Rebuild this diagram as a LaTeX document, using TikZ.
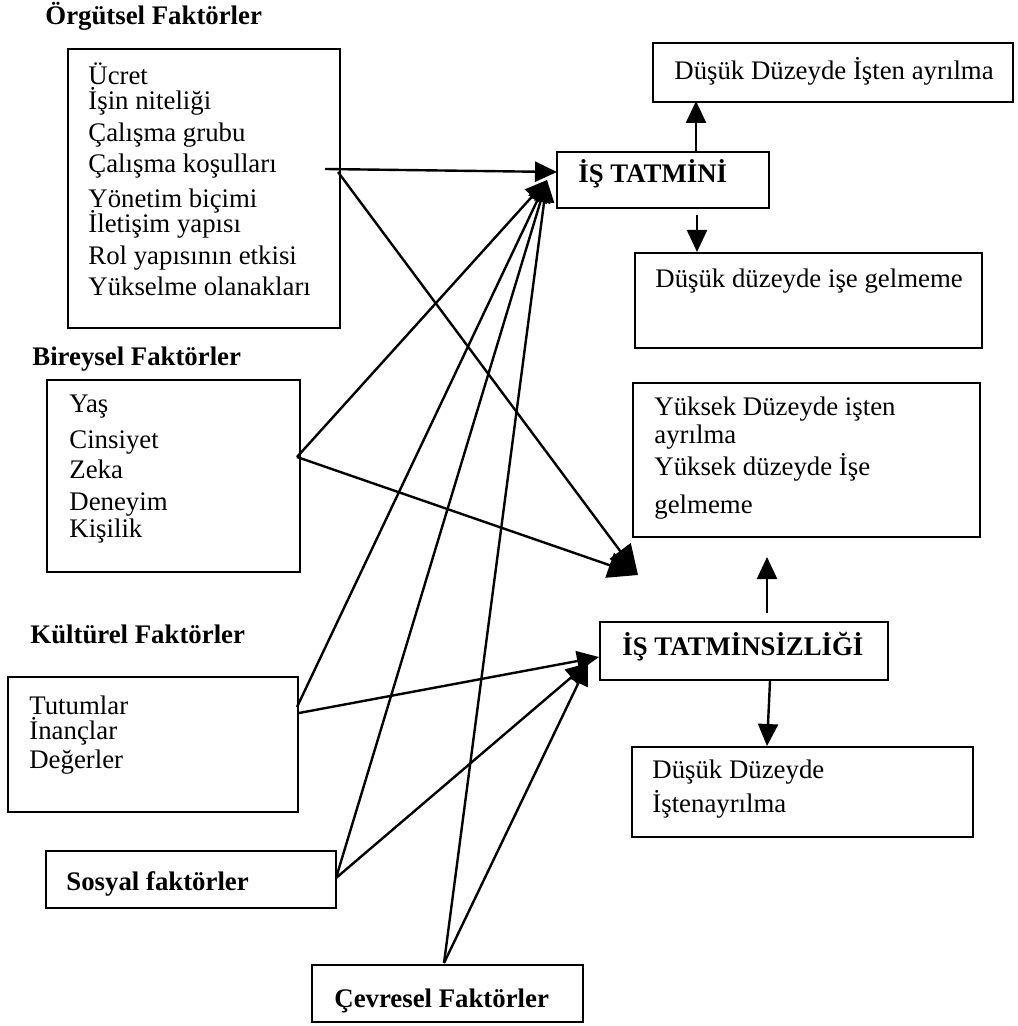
\documentclass[tikz,border=0pt]{standalone}
\usepackage{fontspec}
\setmainfont{Liberation Serif}
\usetikzlibrary{arrows.meta,fit}
\begin{document}
\begin{tikzpicture}[x=0.5pt,y=-0.5pt,
  box/.style={draw, line width=1pt, inner sep=0pt},
  txt/.style={anchor=base west, inner sep=0pt, font=\fontsize{13.4}{16}\selectfont},
  head/.style={anchor=base west, inner sep=0pt, font=\fontsize{13.4}{16}\selectfont\bfseries},
  link/.style={line width=1.2pt, -{Triangle[length=11pt,width=10pt]}},
  bigtip/.style={line width=1.2pt, -{Triangle[length=15pt,width=13pt]}},
]
\useasboundingbox (0,0) rectangle (1017,1026);

% ---- factor groups (left) ----
\node[head] (orgT) at (45,25) {Örgütsel Faktörler};
\node[box, fit={(68,49) (340,328)}] (org) {};
\foreach \yy/\t [count=\i] in {85/Ücret, 110/İşin niteliği, 142/Çalışma grubu,
    173/Çalışma koşulları, 208/Yönetim biçimi, 233/İletişim yapısı,
    265/Rol yapısının etkisi, 296/Yükselme olanakları}
  \node[txt] (org\i) at (88,\yy) {\t};

\node[head] (birT) at (32,365) {Bireysel Faktörler};
\node[box, fit={(47,380) (300,572)}] (bir) {};
\foreach \yy/\t [count=\i] in {412/Yaş, 448/Cinsiyet, 478/Zeka, 510/Deneyim, 537/Kişilik}
  \node[txt] (bir\i) at (69,\yy) {\t};

\node[head] (kulT) at (30,643) {Kültürel Faktörler};
\node[box, fit={(8,677) (298,812)}] (kul) {};
\foreach \yy/\t [count=\i] in {714/Tutumlar, 739/İnançlar, 768/Değerler}
  \node[txt] (kul\i) at (29,\yy) {\t};

\node[box, fit={(46,851) (336,908)}] (sos) {};
\node[head] (sosT) at (66,890) {Sosyal faktörler};

\node[box, fit={(312,965) (583,1022)}] (cev) {};
\node[head] (cevT) at (334,1007) {Çevresel Faktörler};

% ---- outcomes (right) ----
\node[box, fit={(557,152) (769,208)}] (tat) {};
\node[head] (tatT) at (578,183) {İŞ TATMİNİ};

\node[box, fit={(653,43) (1013,102)}] (dayr) {};
\node[txt] (dayrT) at (674,80) {Düşük Düzeyde İşten ayrılma};

\node[box, fit={(635,253) (982,348)}] (dgel) {};
\node[txt] (dgelT) at (655,287) {Düşük düzeyde işe gelmeme};

\node[box, fit={(633,383) (980,537)}] (yuk) {};
\foreach \yy/\t [count=\i] in {415/Yüksek Düzeyde işten, 443/ayrılma,
    475/Yüksek düzeyde İşe, 513/gelmeme}
  \node[txt] (yuk\i) at (654,\yy) {\t};

\node[box, fit={(600,622) (888,680)}] (tsz) {};
\node[head] (tszT) at (622,655) {İŞ TATMİNSİZLİĞİ};

\node[box, fit={(632,747) (973,837)}] (dia) {};
\node[txt] (dia1) at (652,778) {Düşük Düzeyde};
\node[txt] (dia2) at (652,812) {İştenayrılma};

% ---- connector end points ----
\coordinate (o1) at (325,169);
\coordinate (o2) at (338,172);
\coordinate (b1) at (297,457);
\coordinate (k1) at (297,707);
\coordinate (k2) at (299,713);
\coordinate (s1) at (336,878);
\coordinate (c1) at (444,963);
\coordinate (tatIn) at (557,172);
\coordinate (tatIn2) at (547,180);
\coordinate (mid) at (638,575);
\coordinate (tszIn) at (599,657);
\coordinate (tszIn2) at (588,663);
\coordinate (tatLow) at (697,215);
\coordinate (tszUp) at (767,613);

% ---- connectors ----
\draw[link] (o1) -- (tatIn);
\draw[bigtip] (o2) -- (mid);
\draw[bigtip] (b1) -- (mid);
\draw[link] (b1) -- (tatIn2);
\draw[link] (k1) -- (tatIn2);
\draw[link] (s1) -- (tatIn2);
\draw[link] (c1) -- (tatIn2);
\draw[link] (k2) -- (tszIn);
\draw[link] (s1) -- (tszIn2);
\draw[link] (c1) -- (tszIn2);

\draw[link] (tat.north -| dayr.south west) ++(44,0) -- ++(0,-50);
\draw[link] (tatLow) -- (tatLow |- dgel.north);
\draw[link] (tszUp) -- (tszUp |- 0,557);
\draw[link] (tsz.south -| 770,0) -- (dia.north -| 767,0);
\end{tikzpicture}
\end{document}
